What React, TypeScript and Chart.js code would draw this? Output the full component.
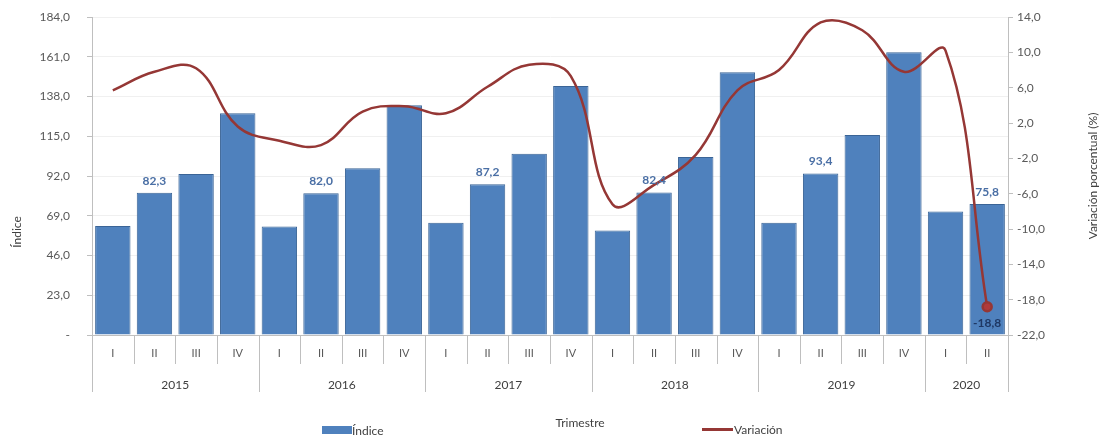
import { useEffect, useRef } from "react";
import { Chart, registerables } from "chart.js";

Chart.register(...registerables);

const quarterLabels = ["I", "II", "III", "IV", "I", "II", "III", "IV", "I", "II", "III", "IV", "I", "II", "III", "IV", "I", "II", "III", "IV", "I", "II"];
const yearLabels = ["2015", "2016", "2017", "2018", "2019", "2020"];
const quartersPerYear = [4, 4, 4, 4, 4, 2];
const indiceValues = [63.0, 82.3, 93.2, 128.3, 62.8, 82.0, 96.5, 132.9, 65.0, 87.2, 104.9, 144.1, 60.4, 82.4, 103.0, 152.0, 65.0, 93.4, 115.7, 163.6, 71.4, 75.8];
const variacionValues = [5.7, 7.8, 8.2, 1.6, 0.0, -0.5, 3.3, 3.9, 3.1, 6.1, 8.6, 7.3, -7.2, -5.0, -1.6, 5.7, 8.0, 13.4, 12.5, 7.8, 10.2, -18.8];
const labelledBars = [1, 5, 9, 13, 17, 21];
const labelledPoints = [21];
const leftTicks = [0, 23, 46, 69, 92, 115, 138, 161, 184];
const rightTicks = [-22, -18, -14, -10, -6, -2, 2, 6, 10, 14];

const FONT = "Lato, 'Open Sans', sans-serif";
const BAR_COLOR = "#4f81bd";
const LINE_COLOR = "#953735";

const fmt = (v: number) => (v === 0 ? "-" : v.toFixed(1).replace(".", ","));

export default function App() {
  const ref = useRef<HTMLCanvasElement | null>(null);

  useEffect(() => {
    const canvas = ref.current;
    if (!canvas) return;

    const decorPlugin = {
      id: "decor",
      afterDatasetsDraw(chart: any) {
        const ctx = chart.ctx;
        const barMeta = chart.getDatasetMeta(0);
        ctx.save();
        ctx.font = `bold 12px ${FONT}`;
        ctx.fillStyle = "#4a6fa5";
        ctx.textAlign = "center";
        ctx.textBaseline = "middle";
        labelledBars.forEach((i) => {
          const el = barMeta.data[i];
          ctx.fillText(fmt(indiceValues[i]), el.x, el.y - 12);
        });
        const lineMeta = chart.getDatasetMeta(1);
        ctx.fillStyle = "#1f3864";
        labelledPoints.forEach((i) => {
          const el = lineMeta.data[i];
          ctx.fillText(fmt(variacionValues[i]), el.x, el.y + 16);
        });
        ctx.restore();
      },
      afterDraw(chart: any) {
        const ctx = chart.ctx;
        const x = chart.scales.x;
        const area = chart.chartArea;
        const n = quarterLabels.length;
        const step = x.getPixelForValue(1) - x.getPixelForValue(0);
        const edge = (i: number) => x.getPixelForValue(i) - step / 2;
        ctx.save();
        ctx.strokeStyle = "#bfbfbf";
        ctx.lineWidth = 1;
        for (let i = 1; i < n; i++) {
          const px = Math.round(edge(i)) + 0.5;
          ctx.beginPath();
          ctx.moveTo(px, area.bottom);
          ctx.lineTo(px, area.bottom + 29);
          ctx.stroke();
        }
        let start = 0;
        ctx.font = `12px ${FONT}`;
        ctx.fillStyle = "#404040";
        ctx.textAlign = "center";
        ctx.textBaseline = "middle";
        const drawSep = (i: number) => {
          const px = Math.round(edge(i)) + 0.5;
          ctx.beginPath();
          ctx.moveTo(px, area.bottom);
          ctx.lineTo(px, area.bottom + 57);
          ctx.stroke();
        };
        drawSep(0);
        yearLabels.forEach((yl, k) => {
          const end = start + quartersPerYear[k];
          drawSep(end);
          const cx = (edge(start) + edge(end)) / 2;
          ctx.fillText(yl, cx, area.bottom + 50);
          start = end;
        });
        ctx.fillStyle = "#404040";
        ctx.font = `12px ${FONT}`;
        ctx.fillText("Trimestre", 580, 423);
        ctx.save();
        ctx.translate(17, 232);
        ctx.rotate(-Math.PI / 2);
        ctx.fillText("Índice", 0, 0);
        ctx.restore();
        ctx.save();
        ctx.translate(1093, 176);
        ctx.rotate(-Math.PI / 2);
        ctx.fillText("Variación porcentual (%)", 0, 0);
        ctx.restore();
        ctx.textAlign = "left";
        ctx.fillStyle = BAR_COLOR;
        ctx.fillRect(322, 426, 30, 8);
        ctx.fillStyle = "#404040";
        ctx.fillText(chart.data.datasets[0].label, 352, 431);
        ctx.strokeStyle = LINE_COLOR;
        ctx.lineWidth = 3;
        ctx.beginPath();
        ctx.moveTo(702, 429.5);
        ctx.lineTo(733, 429.5);
        ctx.stroke();
        ctx.fillText(chart.data.datasets[1].label, 734, 430);
        ctx.restore();
      },
    };

    const chart = new Chart(canvas, {
      type: "bar",
      data: {
        labels: quarterLabels,
        datasets: [
          {
            type: "bar",
            label: "Índice",
            data: indiceValues,
            backgroundColor: BAR_COLOR,
            borderColor: "#3a6496",
            borderWidth: 1,
            categoryPercentage: 1,
            barPercentage: 0.85,
            yAxisID: "y",
            order: 2,
          },
          {
            type: "line",
            label: "Variación",
            data: variacionValues,
            borderColor: LINE_COLOR,
            backgroundColor: "#b03a3a",
            borderWidth: 2.5,
            tension: 0.4,
            pointRadius: variacionValues.map((_, i) => (labelledPoints.includes(i) ? 4.5 : 0)),
            pointBackgroundColor: "#b03a3a",
            pointBorderColor: LINE_COLOR,
            yAxisID: "y1",
            order: 1,
          },
        ] as any,
      },
      options: {
        responsive: false,
        animation: false,
        devicePixelRatio: 1,
        layout: { padding: { top: 17, left: 0, right: 0, bottom: 0 } },
        plugins: { legend: { display: false }, tooltip: { enabled: false } },
        scales: {
          x: {
            grid: { display: false, drawTicks: false },
            border: { display: true, color: "#bfbfbf" },
            ticks: { color: "#595959", font: { family: FONT, size: 11 }, padding: 12, maxRotation: 0, autoSkip: false },
            afterFit: (s: any) => { s.height = 104; s.paddingLeft = 0; s.paddingRight = 0; },
          },
          y: {
            position: "left",
            min: 0,
            max: 184,
            afterBuildTicks: (s: any) => { s.ticks = leftTicks.map((v) => ({ value: v })); },
            ticks: { color: "#595959", font: { family: FONT, size: 12 }, padding: 17, callback: (v: any) => fmt(Number(v)) },
            grid: { color: "#f0f0f0", tickColor: "#bfbfbf", tickLength: 5 },
            border: { display: true, color: "#bfbfbf" },
            afterFit: (s: any) => { s.width = 92; s.paddingTop = 0; s.paddingBottom = 0; },
          },
          y1: {
            position: "right",
            min: -22,
            max: 14,
            afterBuildTicks: (s: any) => { s.ticks = rightTicks.map((v) => ({ value: v })); },
            ticks: { color: "#595959", font: { family: FONT, size: 12 }, padding: 4, callback: (v: any) => Number(v).toFixed(1).replace(".", ",") },
            grid: { drawOnChartArea: false, tickColor: "#bfbfbf", tickLength: 5 },
            border: { display: true, color: "#bfbfbf" },
            afterFit: (s: any) => { s.width = 97; s.paddingTop = 0; s.paddingBottom = 0; },
          },
        },
      } as any,
      plugins: [decorPlugin],
    });

    return () => chart.destroy();
  }, []);

  return (
    <div style={{ position: "fixed", left: 0, top: 0, width: 1105, height: 439, background: "#fff" }}>
      <canvas ref={ref} width={1105} height={439} style={{ width: 1105, height: 439, display: "block" }} />
    </div>
  );
}
